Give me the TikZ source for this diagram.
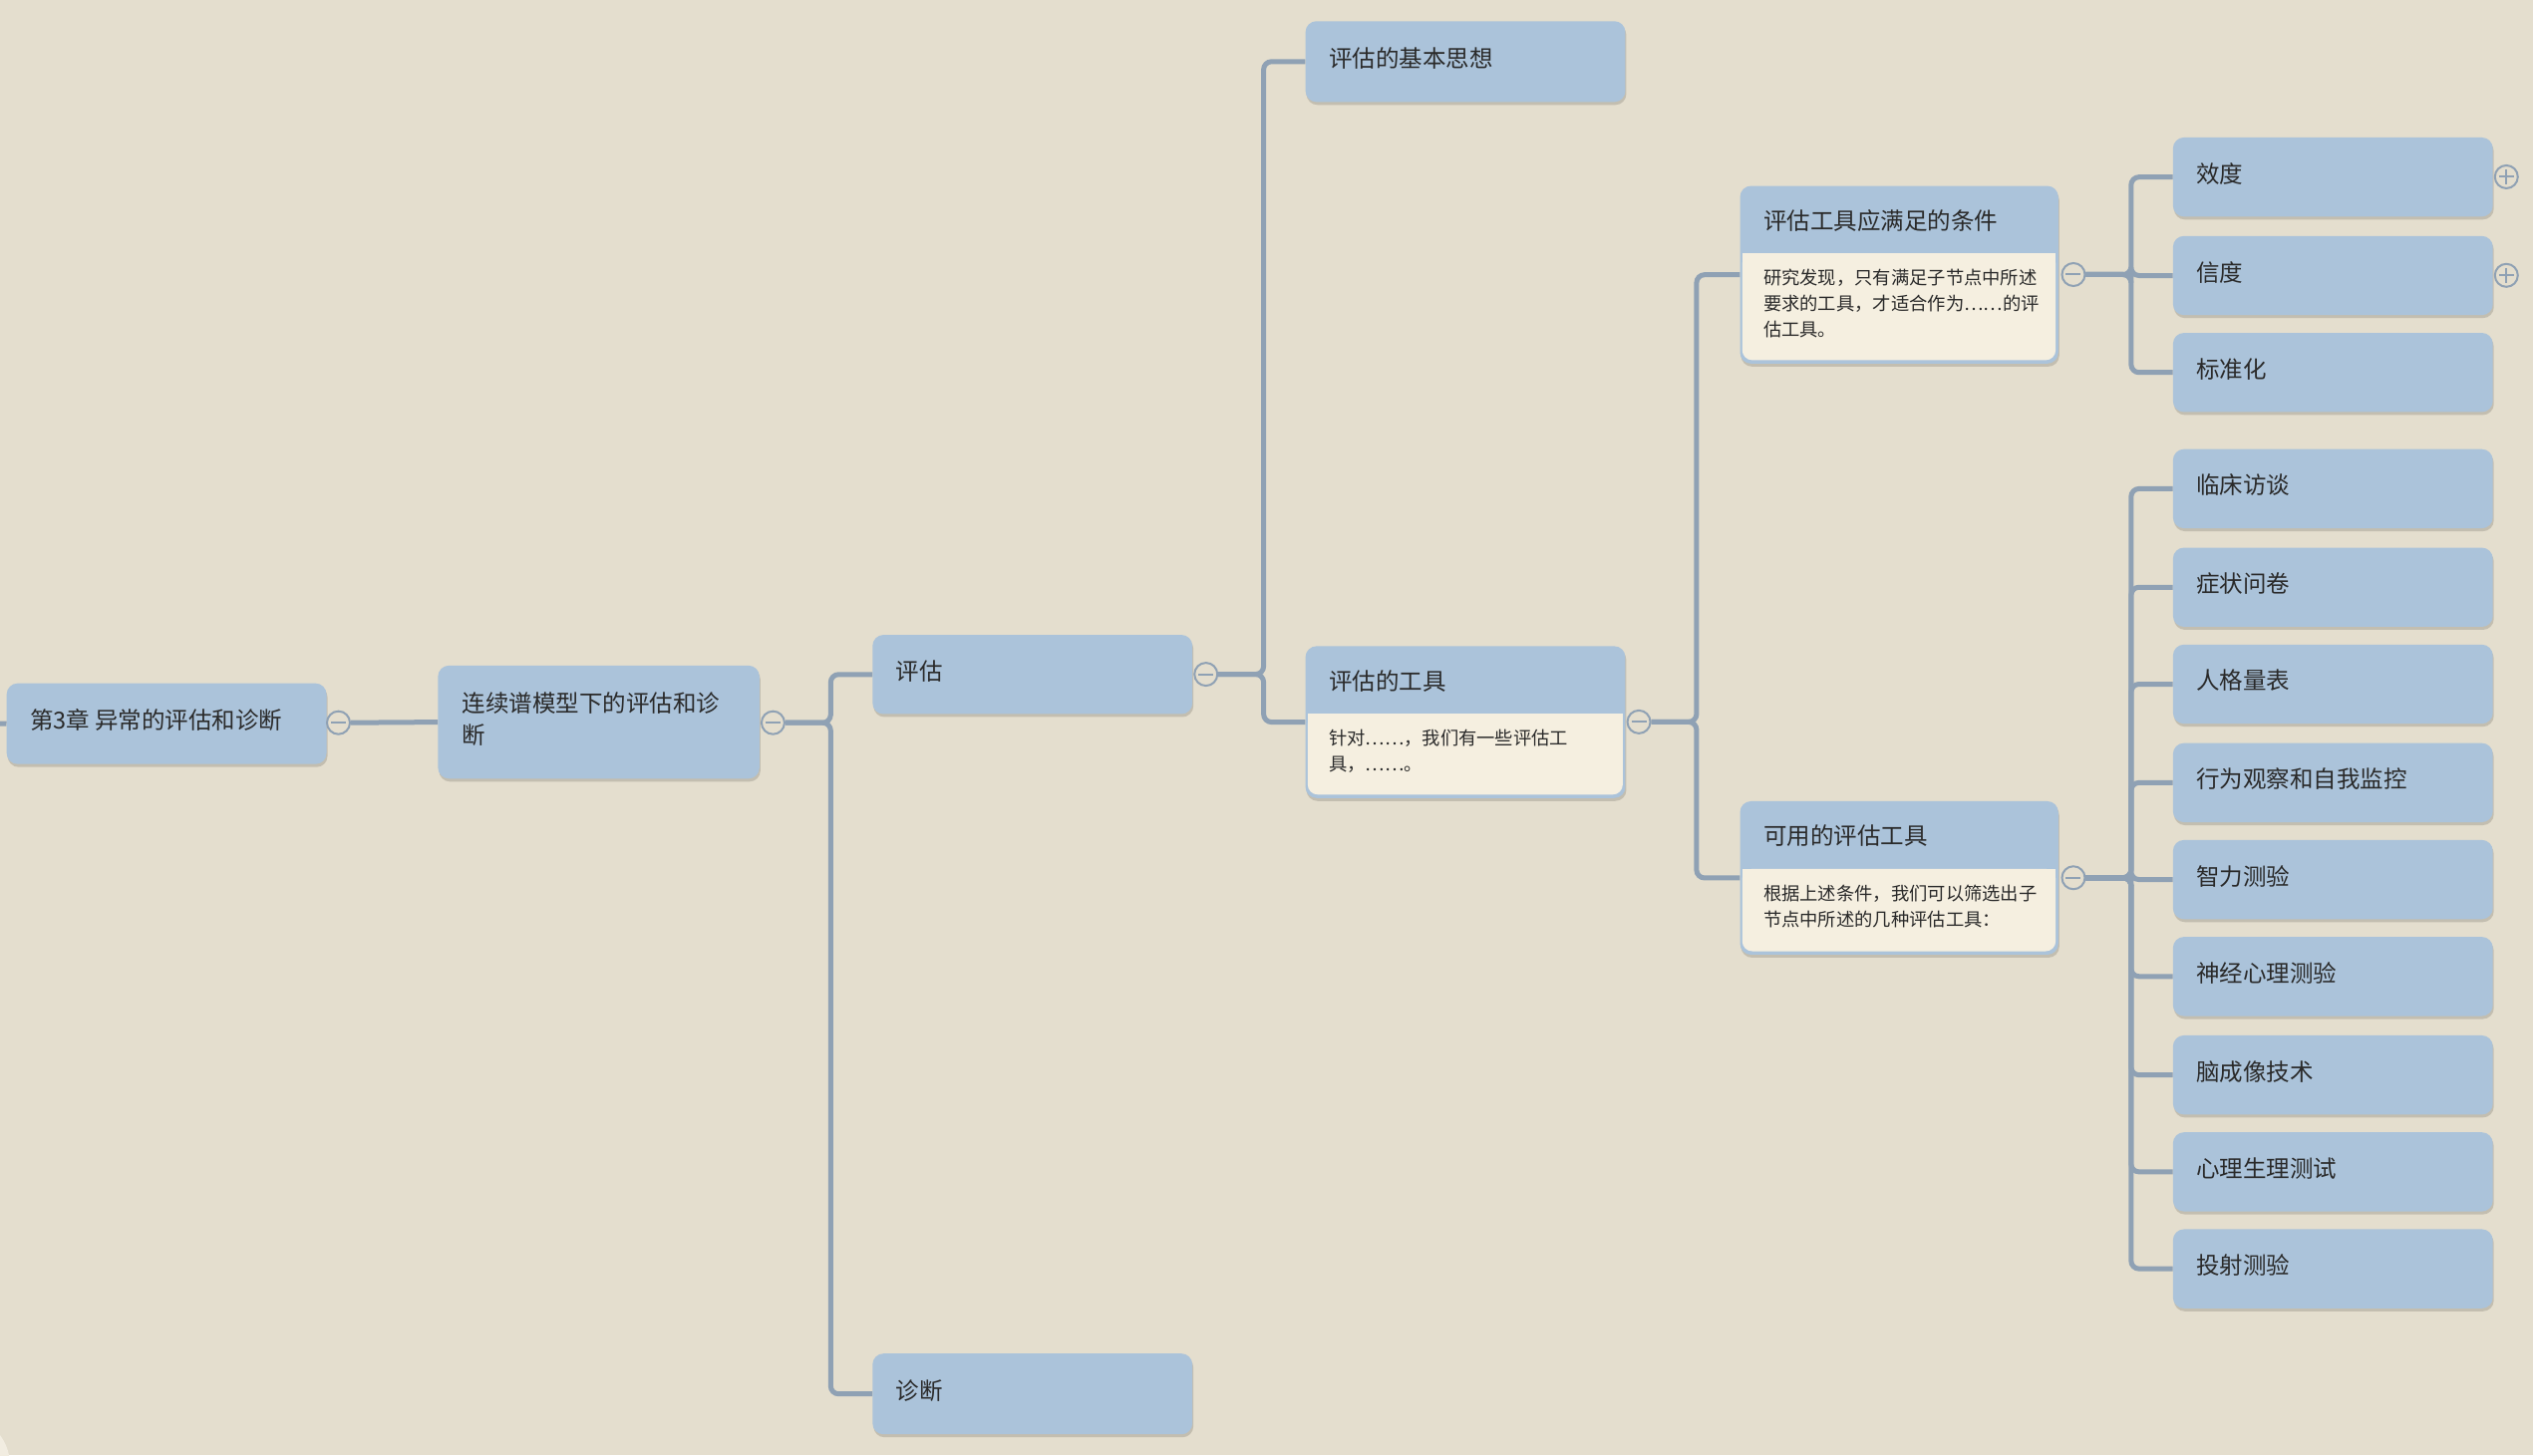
\documentclass[tikz,border=0pt]{standalone}
\usepackage{fontspec}
\setmainfont{Noto Sans CJK SC}
\usetikzlibrary{shadows}
\definecolor{bgc}{HTML}{E4DECE}
\definecolor{boxc}{HTML}{ABC3DA}
\definecolor{bodyc}{HTML}{F5EFE0}
\definecolor{linec}{HTML}{8FA1B4}
\definecolor{txtc}{HTML}{2A2A2A}
\definecolor{cornerc}{HTML}{F2EDE1}
\newcommand\fbig{\fontsize{23.5}{32}\selectfont}
\newcommand\fsmall{\fontsize{18.3}{26}\selectfont}
\tikzset{
  box/.style={draw=none,fill=boxc,rounded corners=11pt,inner sep=0pt,
    drop shadow={shadow xshift=1pt,shadow yshift=-3pt,opacity=0.14,fill=black}},
  lbl/.style={inner sep=0pt,align=left,font=\fbig,text=txtc},
  blbl/.style={inner sep=0pt,align=left,font=\fsmall,text=txtc},
  conn/.style={draw=linec,line width=5pt,rounded corners=8pt},
  knob/.style={circle,draw=linec,line width=2pt,fill=bgc,minimum size=23pt,inner sep=0pt},
  minusk/.style={knob,path picture={\draw[linec,line width=2pt]
     ([xshift=4pt]path picture bounding box.west) -- ([xshift=-4pt]path picture bounding box.east);}},
  plusk/.style={knob,path picture={\draw[linec,line width=2pt]
     ([xshift=4pt]path picture bounding box.west) -- ([xshift=-4pt]path picture bounding box.east)
     ([yshift=-4pt]path picture bounding box.north) -- ([yshift=4pt]path picture bounding box.south);}}
}
% simple box: name, x1, y1, x2, y2, text
\newcommand\tnode[6]{%
  \node[box,anchor=north west,minimum width={(#4-#2)*1.6205pt},minimum height={(#5-#3)*1.6205pt}] (#1) at (#2,#3) {};
  \node[lbl,anchor=west] (#1-t) at ({#2+14.5},{(#3+#5)/2-2}) {#6};}
% header box: name, x1, y1, x2, y2, yheader, title, body y, body text
\newcommand\hnode[9]{%
  \node[box,anchor=north west,minimum width={(#4-#2)*1.6205pt},minimum height={(#5-#3)*1.6205pt}] (#1) at (#2,#3) {};
  \fill[bodyc,rounded corners=10pt] ({#2+1.5},#6) rectangle ({#4-1.5},{#5-2});
  \fill[bodyc] ({#2+1.5},#6) rectangle ({#4-1.5},{#6+8});
  \node[lbl,anchor=west] (#1-t) at ({#2+14.5},{(#3+#6)/2+0.5}) {#7};
  \node[blbl,anchor=west] (#1-b) at ({#2+14.5},#8) {#9};}
\begin{document}
\begin{tikzpicture}[x=1.6205pt,y=-1.6205pt]
\useasboundingbox (0,0) rectangle (1568,901);
\fill[bgc] (0,0) rectangle (1568,901);
\fill[cornerc] (-24.7,907.1) circle (50pt);

% nodes
\tnode{root}{4}{423}{202}{473}{第3章 异常的评估和诊断}
\node[box,anchor=north west,minimum width={199*1.6205pt},minimum height={70*1.6205pt}] (lx) at (271,412) {};
\node[lbl,anchor=west] (lx-t) at (286,445) {连续谱模型下的评估和诊\\断};
\tnode{pg}{540}{393}{738}{442}{评估}
\tnode{zd}{540}{838}{738}{888}{诊断}
\tnode{jb}{808}{13}{1006}{63}{评估的基本思想}
\hnode{gj}{808}{400}{1006}{494}{442}{评估的工具}{465}{针对……，我们有一些评估工\\具，……。}
\hnode{tj}{1077}{115}{1274}{225}{157}{评估工具应满足的条件}{188}{研究发现，只有满足子节点中所述\\要求的工具，才适合作为……的评\\估工具。}
\hnode{ky}{1077}{496}{1274}{591}{538}{可用的评估工具}{561}{根据上述条件，我们可以筛选出子\\节点中所述的几种评估工具：}
\tnode{xd}{1345}{85}{1543}{134}{效度}
\tnode{xdu}{1345}{146}{1543}{195}{信度}
\tnode{bz}{1345}{206}{1543}{255}{标准化}
\tnode{lc}{1345}{278}{1543}{327}{临床访谈}
\tnode{zz}{1345}{339}{1543}{388}{症状问卷}
\tnode{rg}{1345}{399}{1543}{448}{人格量表}
\tnode{xw}{1345}{460}{1543}{509}{行为观察和自我监控}
\tnode{zl}{1345}{520}{1543}{569}{智力测验}
\tnode{sj}{1345}{580}{1543}{629}{神经心理测验}
\tnode{nc}{1345}{641}{1543}{690}{脑成像技术}
\tnode{xl}{1345}{701}{1543}{750}{心理生理测试}
\tnode{ts}{1345}{761}{1543}{810}{投射测验}

% knobs
\node[minusk] (c0) at (209.5,447.5) {};
\node[minusk] (c1) at (478.5,447.5) {};
\node[minusk] (c2) at (746.5,417.5) {};
\node[minusk] (c3) at (1014.5,447) {};
\node[minusk] (c4) at (1283.5,170) {};
\node[minusk] (c5) at (1283.5,543.5) {};
\node[plusk] (p1) at (1551.5,109.5) {};
\node[plusk] (p2) at (1551.5,170.5) {};

% connectors
\coordinate (stub) at (0,448);
\draw[conn] (stub) -- (root.west);
\draw[conn] (c0.east) -- (lx.west);
\draw[conn] (c1.east) -- ++(28,0) |- (pg.west);
\draw[conn] (c1.east) -- ++(28,0) |- (zd.west);
\draw[conn] (c2.east) -- ++(28,0) |- (jb.west);
\draw[conn] (c2.east) -- ++(28,0) |- (gj.west);
\draw[conn] (c3.east) -- ++(28,0) |- (tj.west);
\draw[conn] (c3.east) -- ++(28,0) |- (ky.west);
\foreach \t in {xd,xdu,bz}{\draw[conn] (c4.east) -- ++(28,0) |- (\t.west);}
\foreach \t in {lc,zz,rg,xw,zl,sj,nc,xl,ts}{\draw[conn] (c5.east) -- ++(28,0) |- (\t.west);}
\end{tikzpicture}
\end{document}
